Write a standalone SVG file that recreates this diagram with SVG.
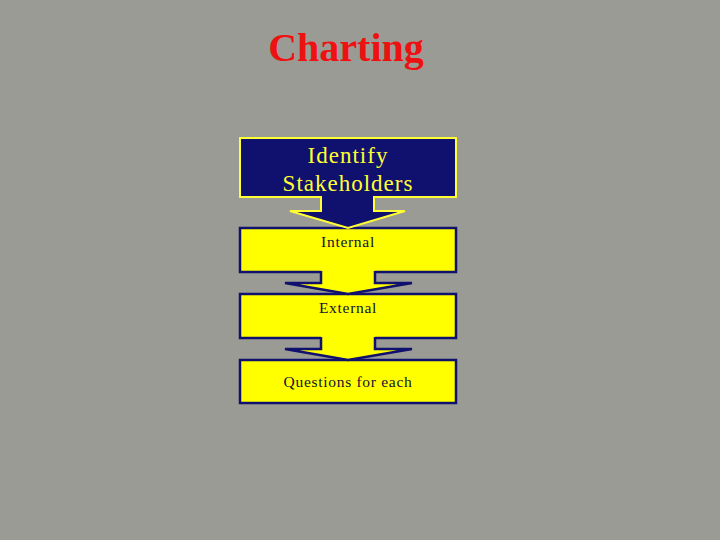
<svg xmlns="http://www.w3.org/2000/svg" width="720" height="540" viewBox="0 0 720 540">
<style>
.title{font-family:"Liberation Serif","Times New Roman",serif;font-weight:bold;font-size:40px;fill:#ee1111;text-anchor:middle}
.lbl1{font-family:"Liberation Serif","Times New Roman",serif;font-size:23px;letter-spacing:1px;fill:#ffff33;text-anchor:middle}
.lbl{font-family:"Liberation Serif","Times New Roman",serif;font-size:15.5px;letter-spacing:0.7px;fill:#111133;text-anchor:middle}
.navy{fill:#10106e;stroke:#ffff33;stroke-width:2}
.yel{fill:#ffff00;stroke:#10106e;stroke-width:2.5}
.afN{fill:#10106e}
.asN{fill:none;stroke:#ffff33;stroke-width:2;stroke-linejoin:miter}
.afY{fill:#ffff00}
.asY{fill:none;stroke:#10106e;stroke-width:2.5;stroke-linejoin:miter}
</style>
<rect width="720" height="540" fill="#9a9b94"/>
<text class="title" x="346" y="61">Charting</text>
<g id="node-identify">
<rect class="navy" x="240" y="138" width="216" height="59"/>
<text class="lbl1" x="348" y="163">Identify</text>
<text class="lbl1" x="348" y="191">Stakeholders</text>
</g>
<g id="node-internal">
<rect class="yel" x="240" y="228" width="216" height="44"/>
<text class="lbl" x="348" y="247">Internal</text>
</g>
<g id="node-external">
<rect class="yel" x="240" y="294" width="216" height="44"/>
<text class="lbl" x="348" y="313">External</text>
</g>
<g id="node-questions">
<rect class="yel" x="240" y="360" width="216" height="43"/>
<text class="lbl" x="348" y="387">Questions for each</text>
</g>
<g id="connectors">
<polygon class="afN" points="321,195 374,195 374,211 405,211 348,228 290,211 321,211"/>
<polyline class="asN" points="321,196 321,211 290,211 348,228 405,211 374,211 374,196"/>
<polygon class="afY" points="321,270 375,270 375,283 412,283 348,294 285,283 321,283"/>
<polyline class="asY" points="321,271 321,283 285,283 348,294 412,283 375,283 375,271"/>
<polygon class="afY" points="321,336 375,336 375,349 412,349 348,360 285,349 321,349"/>
<polyline class="asY" points="321,337 321,349 285,349 348,360 412,349 375,349 375,337"/>
</g>
</svg>
